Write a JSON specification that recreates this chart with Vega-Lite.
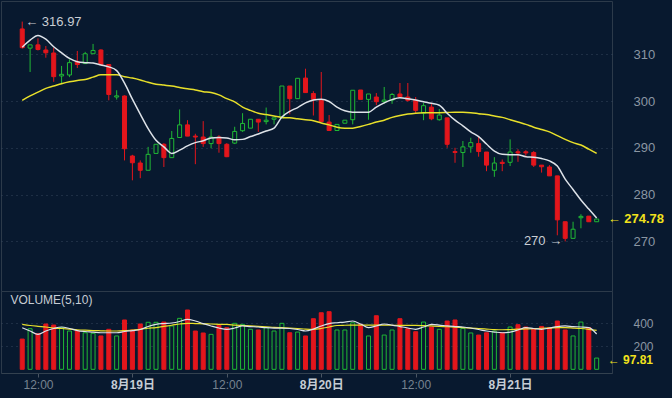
{
"$schema": "https://vega.github.io/schema/vega-lite/v6.json",
"background": "#08192f",
"padding": 0,
"spacing": 0,
"bounds": "flush",
"config": {
  "view": {"stroke": "#2c3a4a", "strokeWidth": 1},
  "font": "Liberation Sans, Noto Sans CJK SC, sans-serif",
  "axis": {"domain": false, "ticks": false, "grid": true, "gridColor": "#34475d", "gridDash": [1, 4], "gridWidth": 1, "labelColor": "#8b96a3", "labelFontSize": 13, "labelFont": "Liberation Sans, Noto Sans CJK SC, sans-serif"}
},
"datasets": {
  "k": [
    {"t":"2024-08-18T10:00","o":315.4,"h":316.97,"l":311.2,"c":311.4,"v":263,"m1":311.5,"m2":300.15,"vm1":362,"vm2":391},
    {"t":"2024-08-18T11:00","o":311.3,"h":312.0,"l":306.2,"c":312.0,"v":353,"m1":313.0,"m2":301.1,"vm1":333,"vm2":381},
    {"t":"2024-08-18T12:00","o":312.0,"h":313.4,"l":310.8,"c":311.0,"v":310,"m1":314.0,"m2":301.9,"vm1":304,"vm2":374},
    {"t":"2024-08-18T13:00","o":310.9,"h":311.75,"l":309.25,"c":310.3,"v":394,"m1":313.2,"m2":302.7,"vm1":333,"vm2":368},
    {"t":"2024-08-18T14:00","o":310.26,"h":311.4,"l":304.1,"c":305.2,"v":385,"m1":311.6,"m2":303.2,"vm1":355,"vm2":359},
    {"t":"2024-08-18T15:00","o":305.35,"h":307.5,"l":303.7,"c":305.7,"v":362,"m1":310.3,"m2":303.7,"vm1":368,"vm2":355},
    {"t":"2024-08-18T16:00","o":305.56,"h":308.9,"l":305.1,"c":308.2,"v":333,"m1":309.1,"m2":304.1,"vm1":355,"vm2":350},
    {"t":"2024-08-18T17:00","o":308.4,"h":310.7,"l":307.05,"c":307.8,"v":333,"m1":308.4,"m2":304.4,"vm1":337,"vm2":344},
    {"t":"2024-08-18T18:00","o":308.0,"h":310.5,"l":307.9,"c":310.1,"v":318,"m1":308.2,"m2":304.6,"vm1":329,"vm2":340},
    {"t":"2024-08-18T19:00","o":310.1,"h":312.2,"l":310.1,"c":310.8,"v":313,"m1":308.1,"m2":305.1,"vm1":324,"vm2":337},
    {"t":"2024-08-18T20:00","o":310.9,"h":311.05,"l":307.8,"c":307.8,"v":290,"m1":307.7,"m2":305.6,"vm1":318,"vm2":335},
    {"t":"2024-08-18T21:00","o":307.8,"h":307.9,"l":300.15,"c":301.4,"v":348,"m1":307.3,"m2":305.6,"vm1":318,"vm2":333},
    {"t":"2024-08-18T22:00","o":300.85,"h":302.3,"l":300.3,"c":301.1,"v":290,"m1":306.5,"m2":305.6,"vm1":318,"vm2":333},
    {"t":"2024-08-18T23:00","o":301.07,"h":301.2,"l":287.3,"c":289.8,"v":429,"m1":303.8,"m2":305.2,"vm1":329,"vm2":336},
    {"t":"2024-08-19T00:00","o":288.25,"h":288.5,"l":283.05,"c":286.8,"v":342,"m1":300.4,"m2":304.9,"vm1":337,"vm2":342},
    {"t":"2024-08-19T01:00","o":286.75,"h":287.3,"l":283.5,"c":285.2,"v":394,"m1":297.2,"m2":304.5,"vm1":346,"vm2":348},
    {"t":"2024-08-19T02:00","o":285.2,"h":290.2,"l":285.2,"c":288.6,"v":409,"m1":294.1,"m2":304.0,"vm1":372,"vm2":357},
    {"t":"2024-08-19T03:00","o":288.8,"h":290.75,"l":288.8,"c":290.75,"v":409,"m1":291.6,"m2":303.6,"vm1":391,"vm2":363},
    {"t":"2024-08-19T04:00","o":290.75,"h":291.0,"l":285.9,"c":287.9,"v":411,"m1":290.2,"m2":303.4,"vm1":398,"vm2":374},
    {"t":"2024-08-19T05:00","o":287.9,"h":293.6,"l":287.9,"c":292.0,"v":377,"m1":288.8,"m2":303.2,"vm1":403,"vm2":383},
    {"t":"2024-08-19T06:00","o":292.2,"h":298.2,"l":292.2,"c":294.9,"v":443,"m1":289.5,"m2":302.9,"vm1":416,"vm2":394},
    {"t":"2024-08-19T07:00","o":294.9,"h":295.9,"l":292.5,"c":292.5,"v":516,"m1":290.4,"m2":302.6,"vm1":435,"vm2":400},
    {"t":"2024-08-19T08:00","o":292.5,"h":293.0,"l":286.5,"c":292.3,"v":333,"m1":291.1,"m2":302.35,"vm1":420,"vm2":398},
    {"t":"2024-08-19T09:00","o":292.3,"h":295.7,"l":290.2,"c":290.9,"v":316,"m1":291.5,"m2":302.0,"vm1":397,"vm2":396},
    {"t":"2024-08-19T10:00","o":290.9,"h":294.0,"l":289.9,"c":292.3,"v":304,"m1":292.1,"m2":301.8,"vm1":377,"vm2":394},
    {"t":"2024-08-19T11:00","o":292.3,"h":292.7,"l":288.95,"c":290.9,"v":383,"m1":292.2,"m2":301.3,"vm1":359,"vm2":391},
    {"t":"2024-08-19T12:00","o":290.75,"h":291.0,"l":288.0,"c":288.1,"v":362,"m1":292.1,"m2":300.5,"vm1":348,"vm2":390},
    {"t":"2024-08-19T13:00","o":291.0,"h":294.5,"l":290.8,"c":293.5,"v":400,"m1":291.7,"m2":299.8,"vm1":359,"vm2":385},
    {"t":"2024-08-19T14:00","o":293.65,"h":297.4,"l":293.4,"c":295.2,"v":391,"m1":291.8,"m2":298.7,"vm1":377,"vm2":381},
    {"t":"2024-08-19T15:00","o":294.2,"h":296.1,"l":294.2,"c":296.1,"v":348,"m1":292.4,"m2":298.0,"vm1":372,"vm2":377},
    {"t":"2024-08-19T16:00","o":296.1,"h":296.1,"l":293.4,"c":295.5,"v":342,"m1":292.95,"m2":297.4,"vm1":368,"vm2":374},
    {"t":"2024-08-19T17:00","o":295.6,"h":298.6,"l":295.0,"c":295.9,"v":362,"m1":293.6,"m2":297.1,"vm1":362,"vm2":370},
    {"t":"2024-08-19T18:00","o":296.1,"h":296.4,"l":295.0,"c":296.4,"v":333,"m1":294.2,"m2":296.8,"vm1":359,"vm2":365},
    {"t":"2024-08-19T19:00","o":296.4,"h":303.2,"l":296.4,"c":303.2,"v":400,"m1":296.6,"m2":296.5,"vm1":359,"vm2":362},
    {"t":"2024-08-19T20:00","o":303.2,"h":303.2,"l":297.15,"c":300.5,"v":318,"m1":297.8,"m2":296.4,"vm1":355,"vm2":359},
    {"t":"2024-08-19T21:00","o":300.5,"h":304.85,"l":300.5,"c":304.85,"v":324,"m1":298.6,"m2":296.2,"vm1":346,"vm2":355},
    {"t":"2024-08-19T22:00","o":304.9,"h":306.9,"l":301.8,"c":301.8,"v":290,"m1":299.6,"m2":296.0,"vm1":333,"vm2":350},
    {"t":"2024-08-19T23:00","o":301.6,"h":302.1,"l":296.9,"c":300.35,"v":440,"m1":300.2,"m2":295.8,"vm1":350,"vm2":348},
    {"t":"2024-08-20T00:00","o":300.15,"h":306.2,"l":295.6,"c":295.6,"v":492,"m1":300.4,"m2":295.3,"vm1":377,"vm2":355},
    {"t":"2024-08-20T01:00","o":295.5,"h":297.0,"l":293.7,"c":293.7,"v":501,"m1":299.9,"m2":294.9,"vm1":398,"vm2":368},
    {"t":"2024-08-20T02:00","o":293.7,"h":295.0,"l":293.7,"c":295.0,"v":342,"m1":298.7,"m2":294.4,"vm1":405,"vm2":381},
    {"t":"2024-08-20T03:00","o":295.25,"h":295.9,"l":295.25,"c":295.9,"v":342,"m1":297.9,"m2":294.2,"vm1":411,"vm2":383},
    {"t":"2024-08-20T04:00","o":296.0,"h":302.3,"l":295.0,"c":302.3,"v":405,"m1":297.6,"m2":294.2,"vm1":420,"vm2":384},
    {"t":"2024-08-20T05:00","o":302.35,"h":302.35,"l":300.35,"c":300.35,"v":391,"m1":297.6,"m2":294.55,"vm1":394,"vm2":385},
    {"t":"2024-08-20T06:00","o":300.35,"h":301.5,"l":296.0,"c":301.5,"v":290,"m1":297.6,"m2":295.0,"vm1":362,"vm2":385},
    {"t":"2024-08-20T07:00","o":300.85,"h":301.7,"l":299.1,"c":299.85,"v":466,"m1":298.7,"m2":295.5,"vm1":377,"vm2":385},
    {"t":"2024-08-20T08:00","o":299.85,"h":303.0,"l":299.4,"c":300.2,"v":298,"m1":299.6,"m2":295.9,"vm1":394,"vm2":384},
    {"t":"2024-08-20T09:00","o":300.2,"h":301.7,"l":299.4,"c":301.4,"v":342,"m1":300.3,"m2":296.5,"vm1":385,"vm2":383},
    {"t":"2024-08-20T10:00","o":301.5,"h":303.85,"l":300.9,"c":300.9,"v":440,"m1":300.7,"m2":296.9,"vm1":372,"vm2":382},
    {"t":"2024-08-20T11:00","o":300.85,"h":303.85,"l":299.85,"c":300.15,"v":353,"m1":300.5,"m2":297.2,"vm1":359,"vm2":382},
    {"t":"2024-08-20T12:00","o":300.15,"h":300.85,"l":297.3,"c":298.0,"v":327,"m1":300.2,"m2":297.4,"vm1":348,"vm2":382},
    {"t":"2024-08-20T13:00","o":297.4,"h":299.6,"l":295.9,"c":299.0,"v":411,"m1":299.85,"m2":297.5,"vm1":368,"vm2":380},
    {"t":"2024-08-20T14:00","o":298.7,"h":299.6,"l":295.9,"c":296.2,"v":368,"m1":299.5,"m2":297.5,"vm1":390,"vm2":377},
    {"t":"2024-08-20T15:00","o":296.0,"h":298.3,"l":295.8,"c":297.0,"v":348,"m1":299.1,"m2":297.5,"vm1":385,"vm2":374},
    {"t":"2024-08-20T16:00","o":296.4,"h":296.4,"l":290.0,"c":290.75,"v":420,"m1":297.4,"m2":297.55,"vm1":377,"vm2":370},
    {"t":"2024-08-20T17:00","o":289.2,"h":290.0,"l":286.8,"c":289.0,"v":429,"m1":295.9,"m2":297.6,"vm1":372,"vm2":367},
    {"t":"2024-08-20T18:00","o":289.0,"h":291.45,"l":285.9,"c":290.2,"v":356,"m1":294.7,"m2":297.6,"vm1":368,"vm2":363},
    {"t":"2024-08-20T19:00","o":290.2,"h":292.15,"l":288.95,"c":291.1,"v":316,"m1":293.4,"m2":297.5,"vm1":359,"vm2":358},
    {"t":"2024-08-20T20:00","o":290.9,"h":292.5,"l":288.1,"c":289.2,"v":298,"m1":292.4,"m2":297.3,"vm1":346,"vm2":354},
    {"t":"2024-08-20T21:00","o":289.1,"h":289.1,"l":285.0,"c":286.3,"v":318,"m1":290.8,"m2":297.1,"vm1":333,"vm2":350},
    {"t":"2024-08-20T22:00","o":285.2,"h":288.0,"l":283.8,"c":286.75,"v":333,"m1":289.3,"m2":296.8,"vm1":324,"vm2":346},
    {"t":"2024-08-20T23:00","o":286.9,"h":287.5,"l":285.0,"c":286.65,"v":318,"m1":288.6,"m2":296.5,"vm1":318,"vm2":344},
    {"t":"2024-08-21T00:00","o":286.9,"h":291.8,"l":286.1,"c":289.1,"v":368,"m1":288.5,"m2":296.0,"vm1":324,"vm2":346},
    {"t":"2024-08-21T01:00","o":289.15,"h":289.7,"l":287.0,"c":288.9,"v":388,"m1":288.5,"m2":295.5,"vm1":342,"vm2":349},
    {"t":"2024-08-21T02:00","o":289.15,"h":289.5,"l":288.3,"c":288.9,"v":368,"m1":288.1,"m2":295.0,"vm1":362,"vm2":351},
    {"t":"2024-08-21T03:00","o":289.0,"h":289.3,"l":285.9,"c":286.3,"v":353,"m1":288.0,"m2":294.4,"vm1":355,"vm2":353},
    {"t":"2024-08-21T04:00","o":286.3,"h":286.3,"l":284.7,"c":285.95,"v":373,"m1":287.7,"m2":293.9,"vm1":348,"vm2":357},
    {"t":"2024-08-21T05:00","o":285.9,"h":286.3,"l":284.0,"c":284.0,"v":362,"m1":287.2,"m2":293.4,"vm1":359,"vm2":359},
    {"t":"2024-08-21T06:00","o":284.0,"h":284.0,"l":271.3,"c":274.6,"v":420,"m1":286.1,"m2":292.6,"vm1":372,"vm2":362},
    {"t":"2024-08-21T07:00","o":274.2,"h":274.2,"l":270.0,"c":270.65,"v":342,"m1":283.3,"m2":291.8,"vm1":377,"vm2":362},
    {"t":"2024-08-21T08:00","o":270.65,"h":274.2,"l":270.65,"c":272.6,"v":290,"m1":281.1,"m2":291.1,"vm1":372,"vm2":359},
    {"t":"2024-08-21T09:00","o":275.05,"h":275.8,"l":272.8,"c":275.35,"v":411,"m1":278.85,"m2":290.6,"vm1":368,"vm2":355},
    {"t":"2024-08-21T10:00","o":275.4,"h":275.4,"l":274.2,"c":274.2,"v":362,"m1":276.9,"m2":289.7,"vm1":363,"vm2":348},
    {"t":"2024-08-21T11:00","o":274.2,"h":274.8,"l":274.2,"c":274.78,"v":97.81,"m1":275.0,"m2":288.8,"vm1":307,"vm2":339}
  ]
},
"vconcat": [
  {
    "width": 611,
    "height": 290,
    "encoding": {
      "x": {"field": "t", "type": "temporal", "axis": null,
            "scale": {"domain": [{"year": 2024, "month": 8, "date": 18, "hours": 7, "minutes": 56, "seconds": 15}, {"year": 2024, "month": 8, "date": 21, "hours": 12, "minutes": 18, "seconds": 45}], "nice": false}}
    },
    "layer": [
      {
        "data": {"name": "k"},
        "mark": {"type": "rule", "strokeWidth": 1},
        "encoding": {
          "y": {"field": "l", "type": "quantitative", "scale": {"domain": [259.4, 321.37], "nice": false, "zero": false},
                "axis": {"orient": "right", "values": [270, 280, 290, 300, 310], "title": null, "labelPadding": 21, "minExtent": 61, "maxExtent": 61}},
          "y2": {"field": "h"},
          "color": {"condition": {"test": "datum.c >= datum.o", "value": "#20b935"}, "value": "#e3161c"}
        }
      },
      {
        "data": {"name": "k"},
        "mark": {"type": "bar", "width": 4, "strokeWidth": 1},
        "encoding": {
          "y": {"field": "o", "type": "quantitative", "scale": {"domain": [259.4, 321.37], "nice": false, "zero": false}, "axis": {"title": null}},
          "y2": {"field": "c"},
          "fill": {"condition": {"test": "datum.c >= datum.o", "value": "#08192f"}, "value": "#e3161c"},
          "stroke": {"condition": {"test": "datum.c >= datum.o", "value": "#20b935"}, "value": "#e3161c"}
        }
      },
      {
        "data": {"name": "k"},
        "mark": {"type": "line", "color": "#e8e02a", "strokeWidth": 1.5, "interpolate": "monotone"},
        "encoding": {
          "y": {"field": "m2", "type": "quantitative", "scale": {"domain": [259.4, 321.37], "nice": false, "zero": false}, "axis": {"title": null}}
        }
      },
      {
        "data": {"name": "k"},
        "mark": {"type": "line", "color": "#dde2e8", "strokeWidth": 1.5, "interpolate": "monotone"},
        "encoding": {
          "y": {"field": "m1", "type": "quantitative", "scale": {"domain": [259.4, 321.37], "nice": false, "zero": false}, "axis": {"title": null}}
        }
      },
      {
        "data": {"values": [
          {"t": "2024-08-18T10:00", "p": 316.97, "label": "← 316.97"}
        ]},
        "mark": {"type": "text", "align": "left", "baseline": "middle", "dx": 3, "fontSize": 13, "color": "#c9ced4"},
        "encoding": {
          "y": {"field": "p", "type": "quantitative", "scale": {"domain": [259.4, 321.37], "nice": false, "zero": false}, "axis": {"title": null}},
          "text": {"field": "label"}
        }
      },
      {
        "data": {"values": [
          {"t": "2024-08-21T07:00", "p": 270.0, "label": "270 →"}
        ]},
        "mark": {"type": "text", "align": "right", "baseline": "middle", "dx": -3, "fontSize": 13, "color": "#c9ced4"},
        "encoding": {
          "y": {"field": "p", "type": "quantitative", "scale": {"domain": [259.4, 321.37], "nice": false, "zero": false}, "axis": {"title": null}},
          "text": {"field": "label"}
        }
      },
      {
        "data": {"values": [
          {"t": "2024-08-21T11:00", "p": 274.78, "label": "← 274.78"}
        ]},
        "mark": {"type": "text", "align": "left", "baseline": "middle", "dx": 11, "fontSize": 13, "fontWeight": "bold", "color": "#f2e21c"},
        "encoding": {
          "y": {"field": "p", "type": "quantitative", "scale": {"domain": [259.4, 321.37], "nice": false, "zero": false}, "axis": {"title": null}},
          "text": {"field": "label"}
        }
      }
    ]
  },
  {
    "width": 611,
    "height": 82,
    "encoding": {
      "x": {"field": "t", "type": "temporal",
            "scale": {"domain": [{"year": 2024, "month": 8, "date": 18, "hours": 7, "minutes": 56, "seconds": 15}, {"year": 2024, "month": 8, "date": 21, "hours": 12, "minutes": 18, "seconds": 45}], "nice": false},
            "axis": {"orient": "bottom", "title": null, "grid": false, "domain": true, "domainColor": "#33414f", "ticks": true, "tickSize": 4, "tickColor": "#4a5563",
                     "labelPadding": 2, "labelFontSize": 12, "minExtent": 26, "maxExtent": 26,
                     "values": [
                       {"year": 2024, "month": 8, "date": 18, "hours": 12},
                       {"year": 2024, "month": 8, "date": 19, "hours": 0},
                       {"year": 2024, "month": 8, "date": 19, "hours": 12},
                       {"year": 2024, "month": 8, "date": 20, "hours": 0},
                       {"year": 2024, "month": 8, "date": 20, "hours": 12},
                       {"year": 2024, "month": 8, "date": 21, "hours": 0}
                     ],
                     "labelExpr": "hours(datum.value) == 0 ? (month(datum.value) + 1) + '月' + date(datum.value) + '日' : '12:00'",
                     "labelColor": {"condition": {"test": "hours(datum.value) == 0", "value": "#c5ccd4"}, "value": "#77838f"},
                     "labelFontWeight": {"condition": {"test": "hours(datum.value) == 0", "value": "bold"}, "value": "normal"}}}
    },
    "layer": [
      {
        "data": {"name": "k"},
        "mark": {"type": "bar", "width": 4, "strokeWidth": 1},
        "encoding": {
          "y": {"field": "v", "type": "quantitative", "scale": {"domain": [-32, 681], "nice": false, "zero": false},
                "axis": {"orient": "right", "values": [200, 400], "title": null, "labelPadding": 21, "labelFontSize": 12, "minExtent": 61, "maxExtent": 61}},
          "y2": {"datum": 0},
          "fill": {"condition": {"test": "datum.c >= datum.o", "value": "#08192f"}, "value": "#e3161c"},
          "stroke": {"condition": {"test": "datum.c >= datum.o", "value": "#20b935"}, "value": "#e3161c"}
        }
      },
      {
        "data": {"name": "k"},
        "mark": {"type": "line", "color": "#e8e02a", "strokeWidth": 1.2, "interpolate": "monotone"},
        "encoding": {
          "y": {"field": "vm2", "type": "quantitative", "scale": {"domain": [-32, 681], "nice": false, "zero": false}, "axis": {"title": null}}
        }
      },
      {
        "data": {"name": "k"},
        "mark": {"type": "line", "color": "#dde2e8", "strokeWidth": 1.2, "interpolate": "monotone"},
        "encoding": {
          "y": {"field": "vm1", "type": "quantitative", "scale": {"domain": [-32, 681], "nice": false, "zero": false}, "axis": {"title": null}}
        }
      },
      {
        "data": {"values": [
          {"t": "2024-08-18T08:30", "v": 603, "label": "VOLUME(5,10)"}
        ]},
        "mark": {"type": "text", "align": "left", "baseline": "middle", "fontSize": 12, "color": "#c6ccd3"},
        "encoding": {
          "y": {"field": "v", "type": "quantitative", "scale": {"domain": [-32, 681], "nice": false, "zero": false}, "axis": {"title": null}},
          "text": {"field": "label"}
        }
      },
      {
        "data": {"values": [
          {"t": "2024-08-21T11:00", "v": 97.81, "label": "← 97.81"}
        ]},
        "mark": {"type": "text", "align": "left", "baseline": "middle", "dx": 11, "dy": 1.5, "fontSize": 12, "fontWeight": "bold", "color": "#f2e21c"},
        "encoding": {
          "y": {"field": "v", "type": "quantitative", "scale": {"domain": [-32, 681], "nice": false, "zero": false}, "axis": {"title": null}},
          "text": {"field": "label"}
        }
      }
    ]
  }
]
}
